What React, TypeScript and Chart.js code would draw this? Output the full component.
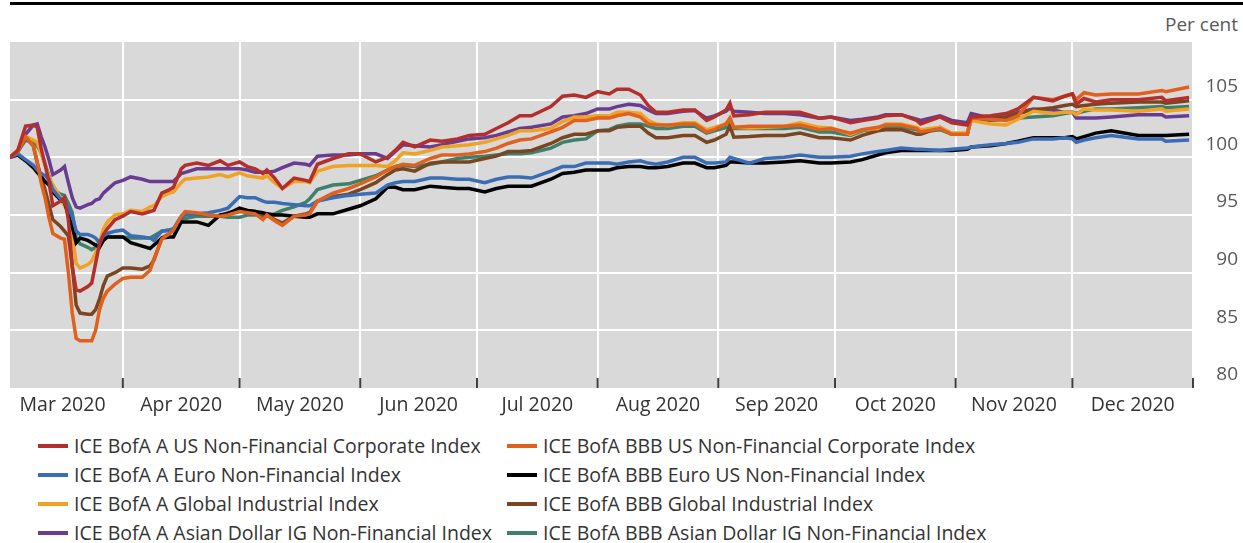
import React, { useEffect, useRef } from "react";
import { Chart, registerables } from "chart.js";

Chart.register(...registerables);

const FONT = "'Open Sans', 'Noto Sans', sans-serif";

const dates = [
  "2020-03-03","2020-03-05","2020-03-07","2020-03-09","2020-03-10","2020-03-11","2020-03-12","2020-03-13","2020-03-14","2020-03-16",
  "2020-03-17","2020-03-18","2020-03-19","2020-03-20","2020-03-21","2020-03-23","2020-03-24","2020-03-25","2020-03-26","2020-03-27",
  "2020-03-28","2020-03-30","2020-04-01","2020-04-03","2020-04-06","2020-04-08","2020-04-09","2020-04-11","2020-04-13","2020-04-14",
  "2020-04-16","2020-04-17","2020-04-20","2020-04-23","2020-04-26","2020-04-28","2020-05-01","2020-05-03","2020-05-05","2020-05-07",
  "2020-05-08","2020-05-10","2020-05-12","2020-05-15","2020-05-18","2020-05-19","2020-05-21","2020-05-25","2020-05-29","2020-06-01",
  "2020-06-05","2020-06-08","2020-06-10","2020-06-12","2020-06-15","2020-06-19","2020-06-22","2020-06-26","2020-06-29","2020-07-03",
  "2020-07-06","2020-07-09","2020-07-12","2020-07-15","2020-07-20","2020-07-23","2020-07-26","2020-07-29","2020-08-01","2020-08-04",
  "2020-08-06","2020-08-09","2020-08-12","2020-08-14","2020-08-16","2020-08-19","2020-08-23","2020-08-26","2020-08-29","2020-08-31",
  "2020-09-03","2020-09-04","2020-09-05","2020-09-09","2020-09-13","2020-09-18","2020-09-22","2020-09-27","2020-09-30","2020-10-05",
  "2020-10-08","2020-10-12","2020-10-14","2020-10-18","2020-10-22","2020-10-23","2020-10-28","2020-10-31","2020-11-04","2020-11-05",
  "2020-11-10","2020-11-14","2020-11-17","2020-11-21","2020-11-26","2020-11-29","2020-12-01","2020-12-02","2020-12-04","2020-12-07",
  "2020-12-11","2020-12-18","2020-12-24","2020-12-25","2020-12-31",
];

const aUsNonFinancial = [
  100.0,100.6,102.7,102.8,102.6,100.8,99.4,97.9,95.8,96.2,
  96.5,94.6,90.5,88.5,88.4,88.8,89.1,90.8,92.5,93.3,
  93.8,94.6,94.9,95.3,95.1,95.3,95.4,96.9,97.2,97.4,
  99.0,99.3,99.5,99.3,99.7,99.3,99.6,99.2,99.0,98.6,
  98.9,98.2,97.3,98.2,98.0,97.9,99.4,99.9,100.3,100.3,
  99.6,100.0,100.6,101.3,100.9,101.5,101.4,101.6,101.9,102.0,
  102.5,103.0,103.6,103.6,104.4,105.3,105.4,105.2,105.7,105.5,
  105.9,105.9,105.4,104.5,103.9,103.9,104.1,104.1,103.2,103.5,
  104.1,104.7,103.6,103.7,103.9,103.9,103.9,103.4,103.5,103.0,
  103.2,103.4,103.6,103.7,103.2,102.9,103.5,103.0,102.8,103.5,
  103.6,103.8,104.2,105.2,104.9,105.3,105.5,104.6,105.1,104.8,
  105.0,105.0,105.2,104.9,105.2,
];

const bbbUsNonFinancial = [
  100.0,100.5,101.8,101.0,99.6,97.8,96.5,94.8,93.4,93.0,
  92.9,90.0,86.5,84.3,84.1,84.1,84.1,85.0,86.8,87.8,
  88.4,89.0,89.5,89.6,89.6,90.2,91.2,92.9,93.4,93.7,
  94.9,95.3,95.2,95.0,94.9,95.0,95.3,95.2,95.1,94.6,
  95.0,94.5,94.1,94.9,95.0,95.1,96.2,96.9,97.3,97.7,
  98.3,98.9,99.2,99.4,99.3,99.9,100.2,100.2,100.3,100.5,
  100.8,101.2,101.5,101.6,102.2,102.6,103.2,103.2,103.4,103.4,
  103.6,103.8,103.5,102.9,102.8,102.8,102.9,102.9,102.2,102.4,
  102.9,103.4,102.6,102.7,102.7,102.7,102.8,102.4,102.5,102.1,
  102.4,102.6,102.8,102.8,102.5,102.2,102.5,102.0,102.0,103.4,
  103.3,103.2,103.6,105.2,105.0,105.3,105.5,105.0,105.6,105.4,
  105.5,105.5,105.8,105.7,106.1,
];

const aEuroNonFinancial = [
  100.0,100.3,99.8,99.3,98.9,98.6,98.4,98.1,97.2,96.4,
  96.1,95.6,94.9,93.6,93.3,93.3,93.2,93.0,92.6,93.2,
  93.4,93.6,93.7,93.2,93.1,93.0,92.8,93.6,93.7,93.8,
  94.9,95.0,95.1,95.2,95.4,95.6,96.6,96.5,96.5,96.2,
  96.1,96.1,96.0,95.9,95.8,95.8,96.2,96.5,96.7,96.8,
  96.9,97.6,97.8,97.9,97.9,98.2,98.2,98.1,98.1,97.8,
  98.1,98.3,98.3,98.2,98.8,99.2,99.2,99.5,99.5,99.5,
  99.4,99.6,99.7,99.5,99.4,99.6,100.0,100.0,99.5,99.5,
  99.6,100.0,99.9,99.5,99.9,100.0,100.2,100.0,100.0,100.1,
  100.3,100.5,100.6,100.8,100.7,100.7,100.6,100.7,100.8,100.9,
  101.1,101.2,101.3,101.6,101.6,101.7,101.6,101.3,101.5,101.7,
  101.9,101.6,101.6,101.4,101.5,
];

const bbbEuroUsNonFinancial = [
  100.0,100.2,99.7,99.1,98.7,98.3,97.9,97.6,97.0,96.3,
  96.1,95.0,94.0,92.6,93.0,92.8,92.6,92.4,92.2,92.8,
  93.1,93.1,93.1,92.6,92.3,92.1,92.4,93.0,93.1,93.1,
  94.4,94.4,94.4,94.1,95.0,95.1,95.6,95.4,95.3,95.2,
  95.1,95.0,95.0,94.9,94.8,94.8,95.1,95.1,95.5,95.8,
  96.4,97.4,97.4,97.2,97.2,97.5,97.4,97.3,97.3,97.0,
  97.3,97.5,97.5,97.5,98.1,98.6,98.7,98.9,98.9,98.9,
  99.1,99.2,99.2,99.1,99.1,99.2,99.5,99.5,99.1,99.1,
  99.3,99.6,99.6,99.5,99.5,99.6,99.7,99.5,99.5,99.6,
  99.8,100.2,100.4,100.6,100.6,100.6,100.6,100.6,100.7,100.9,
  101.0,101.2,101.4,101.7,101.7,101.7,101.8,101.6,101.8,102.1,
  102.3,101.9,101.9,101.9,102.0,
];

const aGlobalIndustrial = [
  100.0,100.6,101.8,101.5,101.3,100.3,99.4,98.3,97.6,96.5,
  95.8,95.3,93.3,90.8,90.4,90.7,91.0,91.7,92.6,93.8,
  94.4,95.0,95.1,95.4,95.3,95.7,95.8,96.6,96.9,97.0,
  97.8,98.1,98.2,98.3,98.5,98.3,98.65,98.4,98.3,98.2,
  98.4,97.8,97.3,97.9,97.9,97.8,98.8,99.2,99.3,99.3,
  99.3,99.2,99.7,100.4,100.3,100.6,100.9,101.0,101.1,101.3,
  101.6,101.9,102.3,102.3,102.5,103.1,103.5,103.5,103.6,103.6,
  103.9,103.9,103.8,103.2,102.9,102.75,103.0,103.0,102.4,102.6,
  102.9,103.4,102.6,102.55,102.6,102.7,103.0,102.6,102.55,102.0,
  102.4,102.5,102.9,102.9,102.6,102.4,102.6,102.1,102.1,103.2,
  102.9,102.8,103.3,104.0,103.8,103.9,103.9,103.7,104.2,104.1,
  104.1,104.0,104.2,104.0,104.2,
];

const bbbGlobalIndustrial = [
  100.0,100.5,101.7,101.0,99.5,98.3,97.2,95.9,94.6,94.0,
  93.6,93.2,90.6,87.2,86.5,86.4,86.4,86.8,87.7,88.9,
  89.7,90.0,90.4,90.4,90.3,90.6,91.1,93.0,93.4,93.7,
  94.8,95.1,95.1,95.0,94.9,95.2,95.4,95.4,95.3,94.9,
  95.1,94.6,94.3,94.9,95.1,95.2,96.2,96.6,96.8,97.2,
  97.8,98.5,98.9,99.0,98.8,99.5,99.6,99.6,99.6,99.9,
  100.1,100.5,100.5,100.6,101.2,101.7,102.0,102.0,102.3,102.3,
  102.6,102.7,102.7,102.1,101.7,101.7,101.9,101.9,101.3,101.5,
  102.0,102.7,101.75,101.8,101.9,101.9,102.1,101.7,101.7,101.5,
  101.9,102.3,102.4,102.4,102.0,102.0,102.6,102.0,102.0,103.4,
  103.25,103.5,103.8,104.1,104.3,104.5,104.6,104.4,104.5,104.6,
  104.7,104.8,104.8,104.7,104.9,
];

const aAsianDollarIg = [
  100.0,100.6,102.0,102.8,102.9,101.8,100.9,99.8,98.5,98.9,
  99.2,97.8,96.5,95.7,95.6,95.9,96.0,96.3,96.4,96.9,
  97.2,97.8,98.0,98.3,98.1,97.9,97.9,97.9,97.9,97.9,
  98.6,98.7,99.0,99.0,99.0,99.0,99.0,98.9,98.7,98.7,
  98.7,98.8,99.1,99.5,99.4,99.3,100.1,100.2,100.2,100.3,
  100.3,99.9,100.5,101.1,101.0,100.9,101.1,101.4,101.6,101.7,
  101.9,102.2,102.5,102.6,102.9,103.5,103.6,103.8,104.2,104.2,
  104.4,104.6,104.5,104.1,103.8,103.8,104.0,104.05,103.4,103.6,
  104.0,104.3,104.0,103.9,103.8,103.8,103.7,103.4,103.5,103.2,
  103.3,103.5,103.7,103.7,103.3,103.2,103.6,103.2,103.0,103.8,
  103.4,103.5,103.9,104.2,104.1,103.9,103.9,103.4,103.4,103.4,
  103.5,103.7,103.7,103.5,103.6,
];

const bbbAsianDollarIg = [
  100.0,100.5,101.5,101.3,101.0,100.4,99.4,98.4,97.2,96.8,
  96.7,96.0,95.2,93.0,92.5,92.2,92.0,92.2,92.7,92.9,
  93.1,93.1,93.1,93.0,93.0,93.0,93.2,93.6,93.7,93.8,
  94.6,94.7,94.9,94.9,94.9,94.8,94.8,95.0,95.0,95.0,
  94.9,95.1,95.4,95.7,96.1,96.4,97.2,97.6,97.7,98.0,
  98.4,98.9,99.2,99.3,99.2,99.4,99.6,99.9,100.0,100.1,
  100.2,100.3,100.3,100.4,100.8,101.3,101.5,101.6,102.3,102.4,
  102.7,102.9,102.9,102.7,102.5,102.5,102.7,102.7,102.1,102.3,
  102.6,103.0,102.5,102.5,102.5,102.5,102.6,102.2,102.2,101.9,
  102.3,102.5,102.6,102.6,102.4,102.2,102.4,102.0,102.0,103.4,
  103.2,103.3,103.4,103.5,103.6,103.8,103.9,103.8,104.0,104.2,
  104.2,104.3,104.4,104.3,104.4,
];

const seriesNames = [
  "ICE BofA A US Non-Financial Corporate Index",
  "ICE BofA BBB US Non-Financial Corporate Index",
  "ICE BofA A Euro Non-Financial Index",
  "ICE BofA BBB Euro US Non-Financial Index",
  "ICE BofA A Global Industrial Index",
  "ICE BofA BBB Global Industrial Index",
  "ICE BofA A Asian Dollar IG Non-Financial Index",
  "ICE BofA BBB Asian Dollar IG Non-Financial Index",
];

const seriesColors = [
  "#b22f2c", "#e0601e", "#3a6db4", "#000000",
  "#f0a224", "#7a4622", "#693c92", "#3e806b",
];

const seriesValues = [
  aUsNonFinancial, bbbUsNonFinancial, aEuroNonFinancial, bbbEuroUsNonFinancial,
  aGlobalIndustrial, bbbGlobalIndustrial, aAsianDollarIg, bbbAsianDollarIg,
];

const monthStarts = [
  "2020-03-01","2020-04-01","2020-05-01","2020-06-01","2020-07-01","2020-08-01",
  "2020-09-01","2020-10-01","2020-11-01","2020-12-01","2021-01-01",
];
const monthLabels = [
  "Mar 2020","Apr 2020","May 2020","Jun 2020","Jul 2020",
  "Aug 2020","Sep 2020","Oct 2020","Nov 2020","Dec 2020",
];
const yTickValues = [80, 85, 90, 95, 100, 105, 110];
const yGridValues = [85, 90, 95, 100, 105];
const yLabelHidden = [110];

const dayIndex = (iso: string) => {
  const [y, m, d] = iso.split("-").map(Number);
  return Math.round((Date.UTC(y, m - 1, d) - Date.UTC(2020, 2, 1)) / 86400000);
};

export default function App() {
  const ref = useRef<HTMLCanvasElement>(null);

  useEffect(() => {
    document.body.style.margin = "0";
    const canvas = ref.current;
    if (!canvas) return;
    const starts = monthStarts.map(dayIndex);
    const mids = monthLabels.map((_, i) => (starts[i] + starts[i + 1]) / 2);
    const xs = dates.map(dayIndex);
    const xMin = xs[0];
    const xMax = starts[starts.length - 1];

    const datasets = seriesValues.map((vals, i) => ({
      label: seriesNames[i],
      data: vals.map((v, j) => ({ x: xs[j], y: v })),
      borderColor: seriesColors[i],
      backgroundColor: seriesColors[i],
      borderWidth: 3.5,
      pointRadius: 0,
      tension: 0,
      fill: false,
    }));

    const bgPlugin = {
      id: "plotBg",
      beforeDraw(chart: any) {
        const { ctx, chartArea: a } = chart;
        ctx.save();
        ctx.fillStyle = "#d9d9d9";
        ctx.fillRect(a.left, a.top, a.right - a.left, a.bottom - a.top);
        ctx.restore();
      },
    };

    const innerTicks = {
      id: "innerTicks",
      afterDraw(chart: any) {
        const { ctx, chartArea: a } = chart;
        const sc = chart.scales.xg;
        ctx.save();
        ctx.strokeStyle = "#404040";
        ctx.lineWidth = 2;
        starts.forEach((v) => {
          if (v <= xMin || v > xMax) return;
          const px = sc.getPixelForValue(v);
          ctx.beginPath();
          ctx.moveTo(px, a.bottom - 10);
          ctx.lineTo(px, a.bottom);
          ctx.stroke();
        });
        ctx.restore();
      },
    };

    const chart = new Chart(canvas, {
      type: "line",
      data: { datasets },
      plugins: [bgPlugin, innerTicks],
      options: {
        responsive: false,
        animation: false,
        devicePixelRatio: 1,
        layout: { padding: { left: 10, top: 42, right: 5, bottom: 0 } },
        plugins: { legend: { display: false }, tooltip: { enabled: false } },
        scales: {
          x: {
            type: "linear",
            position: "bottom",
            min: xMin,
            max: xMax,
            afterBuildTicks: (s: any) => {
              s.ticks = mids.map((v) => ({ value: v }));
            },
            afterFit: (s: any) => {
              s.height = 42;
            },
            grid: { display: false },
            border: { display: false },
            ticks: {
              autoSkip: false,
              maxRotation: 0,
              padding: -2,
              color: "#333333",
              font: { family: FONT, size: 19.5 },
              callback: (_v: any, i: number) => monthLabels[i],
            },
          },
          xg: {
            type: "linear",
            position: "top",
            min: xMin,
            max: xMax,
            afterBuildTicks: (s: any) => {
              s.ticks = starts.filter((v) => v > xMin && v <= xMax).map((v) => ({ value: v }));
            },
            afterFit: (s: any) => {
              s.height = 0;
            },
            grid: { color: "#ffffff", lineWidth: 2, drawTicks: false },
            border: { display: false },
            ticks: { display: false },
          },
          y: {
            type: "linear",
            position: "right",
            min: 80,
            max: 110,
            afterBuildTicks: (s: any) => {
              s.ticks = yTickValues.map((v) => ({ value: v }));
            },
            afterFit: (s: any) => {
              s.width = 45;
            },
            grid: {
              color: (c: any) => (yGridValues.includes(c.tick?.value) ? "#ffffff" : "rgba(0,0,0,0)"),
              lineWidth: 2,
              drawTicks: false,
            },
            border: { display: false },
            ticks: {
              padding: 13,
              crossAlign: "far",
              labelOffset: -13,
              color: "#595959",
              font: { family: FONT, size: 19 },
              callback: (v: any) => (yLabelHidden.includes(v) ? "" : String(v)),
            },
          },
        },
      } as any,
    });

    return () => chart.destroy();
  }, []);

  return (
    <div
      style={{
        position: "relative",
        width: 1243,
        height: 543,
        overflow: "hidden",
        background: "#ffffff",
        fontFamily: FONT,
      }}
    >
      <div style={{ position: "absolute", left: 10, top: 2, width: 1233, height: 3, background: "#000" }} />
      <div
        style={{
          position: "absolute",
          right: 5,
          top: 12,
          fontSize: 19,
          lineHeight: "24px",
          color: "#595959",
        }}
      >
        Per cent
      </div>
      <canvas ref={ref} width={1243} height={430} style={{ position: "absolute", left: 0, top: 0 }} />
      <div
        style={{
          position: "absolute",
          left: 38,
          top: 431,
          display: "grid",
          gridTemplateColumns: "469px 469px",
          gridAutoRows: "29px",
          fontSize: 19.5,
          color: "#333333",
        }}
      >
        {seriesNames.map((n, i) => (
          <div
            key={i}
            style={{ display: "flex", alignItems: "center", whiteSpace: "nowrap", minWidth: 0, overflow: "visible" }}
          >
            <span
              style={{
                display: "inline-block",
                flex: "0 0 30px",
                width: 30,
                height: 4,
                background: seriesColors[i],
                marginRight: 6,
              }}
            />
            <span style={{ flex: "0 0 auto" }}>{n}</span>
          </div>
        ))}
      </div>
    </div>
  );
}
